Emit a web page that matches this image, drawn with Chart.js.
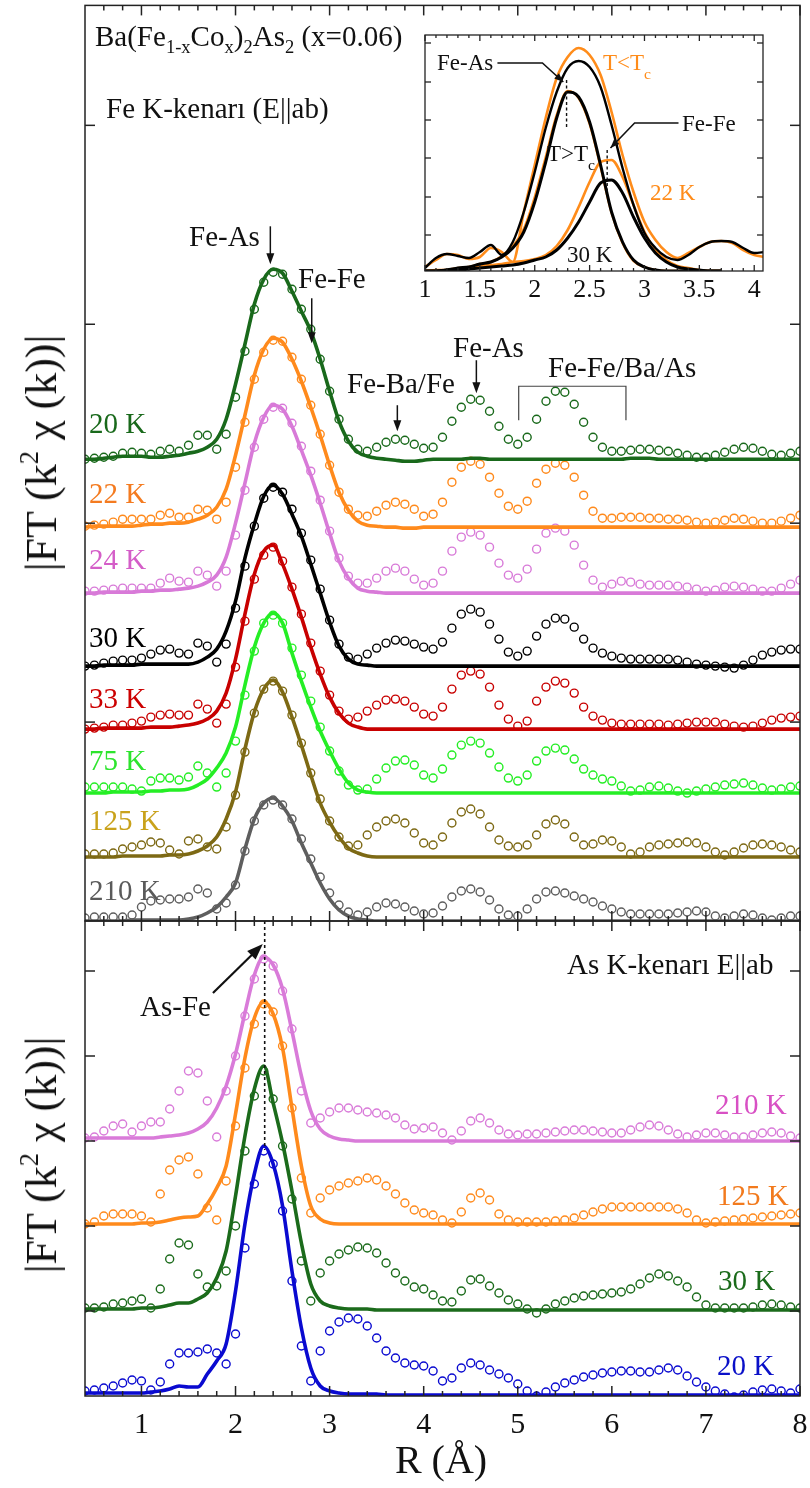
<!DOCTYPE html>
<html lang="tr">
<head>
<meta charset="UTF-8">
<title>Ba(Fe1-xCox)2As2 EXAFS FT</title>
<script src="https://cdn.jsdelivr.net/npm/chart.js"></script>
<style>
  body { margin: 0; background: #fff; }
  #page { position: relative; width: 810px; height: 1488px; background: #fff; overflow: hidden;
          font-family: "Liberation Serif", "DejaVu Serif", serif; color: #111; }
  canvas { position: absolute; }
  .t { position: absolute; white-space: nowrap; font-size: 29px; line-height: 29px; }
  .s { font-size: 23px; line-height: 23px; }
  .t sub { font-size: 0.64em; vertical-align: -0.38em; line-height: 0; }
  .s sub { font-size: 0.68em; vertical-align: -0.55em; line-height: 0; }
  .ytitle { position: absolute; white-space: nowrap; font-size: 44px; line-height: 44px;
            transform: translate(-50%, -50%) rotate(-90deg); }
  .ytitle sup { font-size: 0.6em; vertical-align: 0.7em; line-height: 0; }
</style>
</head>
<body>
<div id="page">
  <canvas id="feChart" width="810" height="930" style="left:0px;top:0px"></canvas>
  <canvas id="asChart" width="810" height="573" style="left:0px;top:915px"></canvas>
  <canvas id="insetChart" width="430" height="300" style="left:380px;top:20px"></canvas>

  <div class="t" style="left:95px;top:22px">Ba(Fe<sub>1-x</sub>Co<sub>x</sub>)<sub>2</sub>As<sub>2</sub> (x=0.06)</div>
  <div class="t" style="left:106px;top:94px">Fe K-kenarı (E||ab)</div>
  <div class="t" style="left:189px;top:222px">Fe-As</div>
  <div class="t" style="left:298px;top:264px">Fe-Fe</div>
  <div class="t" style="left:347px;top:369px">Fe-Ba/Fe</div>
  <div class="t" style="left:453px;top:333px">Fe-As</div>
  <div class="t" style="left:548px;top:353px">Fe-Fe/Ba/As</div>

  <div class="t" style="left:89px;top:409px;color:#19691b">20 K</div>
  <div class="t" style="left:89px;top:479px;color:#f47b20">22 K</div>
  <div class="t" style="left:89px;top:545px;color:#d45ec8">24 K</div>
  <div class="t" style="left:89px;top:623px;color:#000">30 K</div>
  <div class="t" style="left:89px;top:684px;color:#cc0000">33 K</div>
  <div class="t" style="left:89px;top:746px;color:#2de42d">75 K</div>
  <div class="t" style="left:89px;top:806px;color:#c9a21b">125 K</div>
  <div class="t" style="left:89px;top:876px;color:#5a5a5a">210 K</div>

  <div class="t s" style="left:437px;top:51px">Fe-As</div>
  <div class="t s" style="left:603px;top:51px;color:#ff8c1a">T&lt;T<sub>c</sub></div>
  <div class="t s" style="left:682px;top:112px">Fe-Fe</div>
  <div class="t s" style="left:547px;top:142px">T&gt;T<sub>c</sub></div>
  <div class="t s" style="left:650px;top:181px;color:#ff8c1a">22 K</div>
  <div class="t s" style="left:567px;top:243px">30 K</div>

  <div class="t" style="left:140px;top:992px">As-Fe</div>
  <div class="t" style="left:567px;top:950px">As K-kenarı E||ab</div>
  <div class="t" style="left:715px;top:1090px;color:#d850c4">210 K</div>
  <div class="t" style="left:717px;top:1181px;color:#f27a1d">125 K</div>
  <div class="t" style="left:718px;top:1266px;color:#1b6b1b">30 K</div>
  <div class="t" style="left:717px;top:1351px;color:#0a10c8">20 K</div>

  <div class="ytitle" style="left:42px;top:453px">|FT (k<sup>2</sup> χ (k))|</div>
  <div class="ytitle" style="left:42px;top:1155px">|FT (k<sup>2</sup> χ (k))|</div>
  <div class="t" style="left:441px;top:1460px;font-size:40px;line-height:40px;transform:translate(-50%,-50%)">R (Å)</div>
</div>

<script>
// radial grid, Å
const R = [0.4,0.5,0.6,0.7,0.8,0.9,1.0,1.1,1.2,1.3,
           1.4,1.5,1.6,1.7,1.8,1.9,2.0,2.1,2.2,2.3,
           2.4,2.5,2.6,2.7,2.8,2.9,3.0,3.1,3.2,3.3,
           3.4,3.5,3.6,3.7,3.8,3.9,4.0,4.1,4.2,4.3,
           4.4,4.5,4.6,4.7,4.8,4.9,5.0,5.1,5.2,5.3,
           5.4,5.5,5.6,5.7,5.8,5.9,6.0,6.1,6.2,6.3,
           6.4,6.5,6.6,6.7,6.8,6.9,7.0,7.1,7.2,7.3,
           7.4,7.5,7.6,7.7,7.8,7.9,8.0];

// ---- Fe K-edge: |FT| (a.u.), data (circles) and fit (line) ----
const FE_TEMPS = ['20 K','22 K','24 K','30 K','33 K','75 K','125 K','210 K'];
const FE_OFFSETS = [462, 394, 328, 255, 192, 128, 64, 0];

const fe20Data = [0,1,2,3,6,7,6,5,8,10, 8,14,24,24,10,25,62,108,150,177, 187,185,170,150,130,100,68,40,20,10,
  8,12,17,20,19,15,11,12,22,38, 52,60,59,48,33,20,15,22,40,58, 68,67,55,37,22,12,8,8,9,10, 10,9,8,6,4,2,2,4,7,10, 12,11,8,5,4,6,8];
const fe20Fit = [0,0,1,2,3,3,3,2,2,3, 4,6,8,12,20,40,75,115,155,180, 190,186,168,148,128,100,68,38,18,7,
  3,1,0,-1,-2,-2,-1,0,0,0, 0,1,1,0,0,0,0,0,0,0, 0,0,0,0,0,0,0,0,1,1, 1,0,0,0,0,0,0,0,0,0, 0,0,0,0,0,0,0];

const fe22Data = [1,2,3,5,8,8,8,8,12,14, 10,10,18,17,8,25,60,105,148,175, 187,186,170,148,122,93,62,35,18,12,
  11,16,22,25,23,18,11,13,25,45, 60,66,63,50,34,21,18,26,44,58, 64,62,50,32,16,9,9,10,10,10, 9,9,8,8,7,5,4,5,7,9, 8,6,4,4,6,9,12];
const fe22Fit = [0,1,1,1,1,1,2,3,3,4, 4,5,8,12,20,38,72,112,152,178, 189,185,168,146,120,92,62,35,17,6,
  2,1,0,0,-1,-1,0,0,0,0, 0,0,0,0,0,0,0,0,0,0, 0,0,0,0,0,0,0,0,0,0, 0,0,0,0,0,0,0,0,0,0, 0,0,0,0,0,0,0];

const fe24Data = [2,2,3,4,5,5,5,5,10,15, 12,11,22,18,7,22,58,103,146,174, 186,185,170,147,122,93,62,35,17,10,
  10,15,22,25,22,14,8,10,22,42, 56,61,58,46,30,18,15,24,44,60, 65,62,48,28,13,6,9,12,11,9, 8,8,8,7,6,4,2,3,6,7, 6,4,2,2,5,9,13];
const fe24Fit = [0,0,1,1,1,1,2,2,3,3, 4,5,7,11,18,36,70,110,150,176, 188,184,167,143,118,90,60,32,15,5,
  2,1,0,0,0,0,0,0,0,0, 0,0,0,0,0,0,0,0,0,0, 0,0,0,0,0,0,0,0,0,0, 0,0,0,0,0,0,0,0,0,0, 0,0,0,0,0,0,0];

const fe30Data = [0,1,3,5,6,6,8,12,16,17, 13,12,23,20,4,22,58,100,140,168, 179,174,157,133,106,77,46,22,9,7,
  12,18,23,26,25,22,19,17,24,38, 52,57,54,42,27,14,10,15,30,42, 48,47,39,27,18,13,10,8,7,7, 7,7,7,6,4,2,1,0,-1,-2, 1,6,11,14,16,17,17];
const fe30Fit = [0,0,1,1,1,1,2,2,2,2, 2,2,4,9,17,35,65,108,142,170, 181,172,152,130,102,73,44,20,7,2,
  1,0,0,0,0,0,0,0,0,0, 0,0,0,0,0,0,0,0,0,0, 0,0,0,0,0,0,0,0,0,0, 0,0,0,0,0,0,0,0,0,0, 0,0,0,0,0,0,0];

const fe33Data = [0,1,2,4,4,6,8,12,14,15, 14,14,25,20,6,25,62,108,150,174, 182,168,142,115,86,58,34,18,10,12,
  18,24,29,30,28,22,15,13,22,40, 54,58,55,42,24,10,3,8,28,42, 48,46,36,22,13,9,6,5,5,5, 5,5,4,5,6,7,7,7,5,3, 2,3,6,9,11,12,13];
const fe33Fit = [0,0,1,1,1,1,1,2,2,2, 3,4,6,10,18,36,70,115,155,178, 184,165,140,112,82,55,32,16,6,2,
  0,0,0,0,0,0,0,0,0,0, 0,0,0,0,0,0,0,0,0,0, 0,0,0,0,0,0,0,0,0,0, 0,0,0,0,0,0,0,0,0,0, 0,0,0,0,0,0,0];

const fe75Data = [6,6,6,6,6,4,2,12,15,15, 13,16,27,20,6,20,52,98,142,170, 178,170,145,118,92,66,42,22,8,3,
  4,14,25,32,33,28,18,15,24,38, 48,52,50,40,26,15,12,18,32,42, 45,43,34,24,18,14,12,7,2,3, 6,7,5,2,0,2,4,6,8,9, 10,8,5,3,4,6,7];
const fe75Fit = [0,0,0,1,1,1,1,2,2,3, 3,4,8,14,25,40,66,108,146,170, 180,170,140,112,86,62,42,24,10,3,
  1,0,0,0,0,0,0,0,0,0, 0,0,0,0,0,0,0,0,0,0, 0,0,0,0,0,0,0,0,0,0, 0,0,0,0,0,0,0,0,0,0, 0,0,0,0,0,0,0];

const fe125Data = [3,3,3,4,8,10,12,15,14,7, 3,16,18,10,8,30,62,105,144,168, 176,166,142,114,84,58,36,20,11,12,
  22,30,36,38,34,24,14,12,20,34, 45,48,43,30,17,11,10,12,22,33, 37,33,20,12,13,17,16,10,3,5, 10,12,13,14,15,14,10,5,2,5, 9,12,13,12,10,7,5];
const fe125Fit = [0,0,0,0,1,1,1,1,1,2, 2,3,6,11,20,38,65,108,145,168, 177,165,140,112,82,54,35,20,9,4,
  1,0,0,0,0,0,0,0,0,0, 0,0,0,0,0,0,0,0,0,0, 0,0,0,0,0,0,0,0,0,0, 0,0,0,0,0,0,0,0,0,0, 0,0,0,0,0,0,0];

const fe210Data = [3,4,4,4,4,6,14,20,21,22, 22,24,32,28,12,18,36,70,100,116, 121,116,102,82,62,44,28,16,9,6,
  9,14,18,17,14,10,7,8,15,24, 30,32,29,21,12,6,5,12,22,29, 30,28,25,22,19,15,12,9,7,7, 7,7,7,8,9,10,9,5,3,5, 7,6,3,1,3,5,5];
const fe210Fit = [0,0,0,0,0,1,1,1,1,1, 1,2,4,8,14,24,38,72,102,118, 123,115,100,78,58,38,22,11,5,2,
  1,0,0,0,0,0,0,0,0,0, 0,0,0,0,0,0,0,0,0,0, 0,0,0,0,0,0,0,0,0,0, 0,0,0,0,0,0,0,0,0,0, 0,0,0,0,0,0,0];

// ---- As K-edge ----
const AS_TEMPS = ['20 K','30 K','125 K','210 K'];
const AS_OFFSETS = [0, 85, 170, 255];

const as20Data = [5,6,8,10,13,16,15,6,14,32, 43,43,44,47,43,32,62,148,212,245, 232,185,115,50,15,45,65,74,78,77,
  70,58,45,38,33,31,30,25,15,18, 28,33,31,26,22,18,12,5,0,4, 9,13,16,19,21,23,24,25,25,24, 24,26,28,26,20,14,9,5,2,-1, 1,4,6,7,5,3,7];
const as20Fit = [3,3,3,3,3,3,3,4,5,7, 10,9,9,22,35,52,105,172,222,250, 232,190,125,68,28,10,5,3,2,2,
  2,2,1,1,1,1,1,1,1,1, 1,1,1,1,1,1,1,1,1,1, 1,1,1,1,1,1,1,1,1,1, 1,1,1,1,1,1,1,1,1,1, 1,1,1,1,1,1,1];

const as30Data = [3,3,4,7,8,10,12,3,22,52, 68,66,37,24,25,40,85,160,215,240, 212,165,112,50,10,38,50,57,61,64,
  63,58,48,38,30,24,22,16,10,9, 20,31,32,25,18,11,7,2,-2,2, 7,10,13,15,16,17,18,19,22,27, 33,37,35,30,24,14,6,3,3,3, 3,4,6,7,6,4,3];
const as30Fit = [2,2,2,2,2,2,3,3,4,6, 8,8,12,18,33,60,115,175,222,245, 208,168,120,68,27,10,5,3,2,2,
  2,1,1,1,1,1,1,1,1,1, 1,1,1,1,1,1,1,1,1,1, 1,1,1,1,1,1,1,1,1,1, 1,1,1,1,1,1,1,1,1,1, 1,1,1,1,1,1,1];

const as125Data = [2,4,10,12,12,12,10,4,32,56, 66,69,52,18,6,45,100,158,202,222, 214,180,118,48,13,28,36,40,43,45,
  48,46,40,32,23,16,13,11,6,3, 14,28,33,26,12,6,4,4,4,4, 5,6,8,11,14,17,19,19,19,19, 19,19,19,17,13,6,3,4,5,6, 7,8,9,10,11,12,13];
const as125Fit = [2,2,2,2,2,2,3,3,4,6, 8,9,10,22,38,60,112,168,208,224, 212,178,118,60,20,7,3,2,2,2,
  2,2,2,2,2,2,2,2,2,2, 2,2,2,2,2,2,2,2,2,2, 2,2,2,2,2,2,2,2,2,2, 2,2,2,2,2,2,2,2,2,2, 2,2,2,2,2,2,2];

const as210Data = [3,4,10,15,17,9,15,19,19,32, 50,70,68,40,4,50,85,125,162,182, 175,150,112,50,18,23,29,33,33,31,
  29,28,26,23,16,12,13,14,8,1, 10,20,23,18,11,7,6,7,7,8, 9,10,11,11,10,9,8,8,11,14, 16,15,11,7,4,6,8,8,6,4, 4,6,8,9,8,5,3];
const as210Fit = [3,3,3,3,3,3,3,3,4,5, 6,8,12,19,33,55,87,128,166,184, 176,152,110,65,30,12,5,2,1,0,
  0,0,0,0,0,0,0,0,0,0, 0,0,0,0,0,0,0,0,0,0, 0,0,0,0,0,0,0,0,0,0, 0,0,0,0,0,0,0,0,0,0, 0,0,0,0,0,0,0];

// ---- inset: 22 K vs 30 K, full FT and Fe-As / Fe-Fe shells ----
const IN_R = [1.0,1.1,1.2,1.3,1.4,1.5,1.6,1.7,1.8,1.9,2.0,2.1,2.2,2.3,2.4,2.5,
              2.6,2.7,2.8,2.9,3.0,3.1,3.2,3.3,3.4,3.5,3.6,3.7,3.8,3.9,4.0,4.1];
const in22Full = [4,11,17,16,12,14,23,19,9,59, 106,153,193,214,223,216,196,159,116,79, 49,31,19,13,18,24,29,30,28,21, 16,14];
const in30Full = [3,13,17,15,13,19,26,16,29,59, 99,143,179,203,210,204,184,146,103,66, 38,23,14,11,16,24,29,30,29,23, 18,19];
const in22FeAs = [0,0,1,3,4,7,9,15,25,42, 74,114,156,180,173,147,104,58,28,10, 4,1,0,0,0,0,0,0];
const in30FeAs = [0,0,1,3,4,7,9,14,23,39, 69,109,153,179,174,149,106,59,29,11, 4,1,0,0,0,0,0,0];
const in22FeFe = [0,1,1,2,3,5,6,7,9,10, 12,16,25,41,64,89,109,111,94,66, 39,21,11,5,3,1,0,0];
const in30FeFe = [0,0,1,1,2,3,4,5,6,8, 11,14,21,33,49,69,88,91,78,54, 33,18,9,4,2,1,0,0];

// axis ticks
const X_MAJOR = [1,2,3,4,5,6,7,8];
const FE_YTICKS = [199, 398, 597, 796];
const AS_YTICKS = [85, 170, 255, 340, 425];
const IN_XMAJOR = [1,1.5,2,2.5,3,3.5,4];
const IN_YTICKS = [36, 74, 113, 151, 189, 228];

// annotation marks (data coordinates)
const FE_ARROWS = [{r:2.37, from:695, to:657}, {r:2.81, from:623, to:578}, {r:3.72, from:516, to:490}, {r:4.56, from:561, to:528}];
const FE_BRACKET = {from:5.01, to:6.15, top:535, leg:501};
const IN_POINTERS = [[[1.66,208],[2.07,208],[2.26,189]], [[3.31,148],[2.91,148],[2.69,123]]];
const IN_DASHES = [{r:2.29, from:191, to:144}, {r:2.66, from:121, to:79}];
const AS_DASH = {r:2.31, from:475, to:246};
const AS_ARROW = {from:[1.76,403], to:[2.29,452]};

const FE_COLORS = ['#19691b','#ff8a1c','#d87ad8','#000000','#c80000','#25ee25','#7d6914','#5e5e5e'];
const AS_COLORS = ['#0a0ad0','#1b6b1b','#ff8a1c','#d97bd9'];
const SERIF = '"Liberation Serif", "Times New Roman", serif';

function minors(lo, hi, step, skip) {
  const out = [];
  for (let v = lo; v <= hi + 1e-9; v += step) {
    const r = Math.round(v * 100) / 100;
    if (!skip.some(s => Math.abs(s - r) < 1e-6)) out.push(r);
  }
  return out;
}
const X_MINOR = minors(0.6, 7.8, 0.2, X_MAJOR);
const IN_XMINOR = minors(1.1, 4.0, 0.1, IN_XMAJOR);

const pts = (xs, ys, off) => ys.map((v, i) => ({x: xs[i], y: v + off}));

function circleSet(xs, ys, off, color) {
  return { data: pts(xs, ys, off), showLine: false, pointRadius: 4, pointHoverRadius: 0,
           pointBorderWidth: 1.4, pointBorderColor: color, pointBackgroundColor: 'rgba(0,0,0,0)', order: 2 };
}
function lineSet(xs, ys, off, color, width) {
  return { data: pts(xs, ys, off), showLine: true, pointRadius: 0, borderColor: color,
           borderWidth: width || 3.6, cubicInterpolationMode: 'monotone', order: 1 };
}

function arrowHead(ctx, x1, y1, x2, y2, len, half) {
  const a = Math.atan2(y2 - y1, x2 - x1);
  ctx.beginPath();
  ctx.moveTo(x2, y2);
  ctx.lineTo(x2 - len * Math.cos(a) + half * Math.sin(a), y2 - len * Math.sin(a) - half * Math.cos(a));
  ctx.lineTo(x2 - len * Math.cos(a) - half * Math.sin(a), y2 - len * Math.sin(a) + half * Math.cos(a));
  ctx.closePath();
  ctx.fill();
}
function line(ctx, x1, y1, x2, y2) { ctx.beginPath(); ctx.moveTo(x1, y1); ctx.lineTo(x2, y2); ctx.stroke(); }

// frame, inward ticks and tick labels
const frame = {
  id: 'frame',
  afterDraw(chart, args, o) {
    const {ctx, chartArea: a, scales: {x, y}} = chart;
    ctx.save();
    ctx.strokeStyle = '#222';
    ctx.lineWidth = o.lw;
    ctx.strokeRect(a.left, a.top, a.right - a.left, a.bottom - a.top);
    const xt = (vals, len) => vals.forEach(v => {
      const p = x.getPixelForValue(v);
      line(ctx, p, a.top, p, a.top + len);
      line(ctx, p, a.bottom, p, a.bottom - len);
    });
    xt(o.xMajor, o.major); xt(o.xMinor, o.minor);
    o.yTicks.forEach(v => {
      const p = y.getPixelForValue(v);
      line(ctx, a.left, p, a.left + o.major, p);
      line(ctx, a.right, p, a.right - o.major, p);
    });
    if (o.labels) {
      ctx.fillStyle = '#111';
      ctx.font = o.font;
      ctx.textAlign = 'center';
      ctx.textBaseline = 'middle';
      o.xMajor.forEach(v => ctx.fillText(String(v), x.getPixelForValue(v), a.bottom + o.labelGap));
    }
    ctx.restore();
  }
};

function baseOptions(xmin, xmax, ymin, ymax, pad, frameOpts) {
  return {
    responsive: false, animation: false, devicePixelRatio: 1,
    layout: { padding: pad },
    scales: {
      x: { type: 'linear', min: xmin, max: xmax, display: false },
      y: { type: 'linear', min: ymin, max: ymax, display: false }
    },
    plugins: { legend: { display: false }, tooltip: { enabled: false }, frame: frameOpts },
    events: []
  };
}

// ---- Fe K-edge panel ----
const feDatasets = [];
[[fe20Data, fe20Fit], [fe22Data, fe22Fit], [fe24Data, fe24Fit], [fe30Data, fe30Fit],
 [fe33Data, fe33Fit], [fe75Data, fe75Fit], [fe125Data, fe125Fit], [fe210Data, fe210Fit]]
  .forEach(([d, f], i) => {
    feDatasets.push(lineSet(R, f, FE_OFFSETS[i], FE_COLORS[i]));
    feDatasets.push(circleSet(R, d, FE_OFFSETS[i], FE_COLORS[i]));
  });

const feMarks = {
  id: 'feMarks',
  afterDatasetsDraw(chart) {
    const {ctx, scales: {x, y}} = chart;
    ctx.save();
    ctx.strokeStyle = ctx.fillStyle = '#111';
    ctx.lineWidth = 1.5;
    FE_ARROWS.forEach(m => {
      const px = x.getPixelForValue(m.r), y1 = y.getPixelForValue(m.from), y2 = y.getPixelForValue(m.to);
      line(ctx, px, y1, px, y2 - 6);
      arrowHead(ctx, px, y1, px, y2, 11, 4);
    });
    const b1 = x.getPixelForValue(FE_BRACKET.from), b2 = x.getPixelForValue(FE_BRACKET.to);
    const bt = y.getPixelForValue(FE_BRACKET.top), bl = y.getPixelForValue(FE_BRACKET.leg);
    ctx.strokeStyle = '#444';
    ctx.lineWidth = 1.2;
    ctx.beginPath();
    ctx.moveTo(b1, bl); ctx.lineTo(b1, bt); ctx.lineTo(b2, bt); ctx.lineTo(b2, bl);
    ctx.stroke();
    ctx.restore();
  }
};

new Chart(document.getElementById('feChart'), {
  type: 'scatter',
  data: { datasets: feDatasets },
  options: baseOptions(0.4, 8, 0, 916, {left: 85, right: 10, top: 5, bottom: 9},
    {lw: 1.5, major: 10, minor: 5, xMajor: X_MAJOR, xMinor: X_MINOR, yTicks: FE_YTICKS}),
  plugins: [frame, feMarks]
});

// ---- As K-edge panel ----
const asDatasets = [];
[[as20Data, as20Fit], [as30Data, as30Fit], [as125Data, as125Fit], [as210Data, as210Fit]]
  .forEach(([d, f], i) => {
    asDatasets.push(lineSet(R, f, AS_OFFSETS[i], AS_COLORS[i]));
    asDatasets.push(circleSet(R, d, AS_OFFSETS[i], AS_COLORS[i]));
  });

const asMarks = {
  id: 'asMarks',
  afterDatasetsDraw(chart) {
    const {ctx, scales: {x, y}} = chart;
    ctx.save();
    ctx.strokeStyle = ctx.fillStyle = '#111';
    ctx.lineWidth = 1.6;
    ctx.setLineDash([3, 3]);
    const dx = x.getPixelForValue(AS_DASH.r);
    line(ctx, dx, y.getPixelForValue(AS_DASH.from), dx, y.getPixelForValue(AS_DASH.to));
    ctx.setLineDash([]);
    ctx.lineWidth = 2.2;
    const x1 = x.getPixelForValue(AS_ARROW.from[0]), y1 = y.getPixelForValue(AS_ARROW.from[1]);
    const x2 = x.getPixelForValue(AS_ARROW.to[0]), y2 = y.getPixelForValue(AS_ARROW.to[1]);
    line(ctx, x1, y1, x2 - 8, y2 + 8);
    arrowHead(ctx, x1, y1, x2, y2, 16, 6);
    ctx.restore();
  }
};

new Chart(document.getElementById('asChart'), {
  type: 'scatter',
  data: { datasets: asDatasets },
  options: baseOptions(0.4, 8, 0, 475, {left: 85, right: 10, top: 6, bottom: 92},
    {lw: 1.5, major: 10, minor: 5, xMajor: X_MAJOR, xMinor: X_MINOR, yTicks: AS_YTICKS,
     labels: true, font: '30px ' + SERIF, labelGap: 29}),
  plugins: [frame, asMarks]
});

// ---- inset ----
const inMarks = {
  id: 'inMarks',
  afterDatasetsDraw(chart) {
    const {ctx, scales: {x, y}} = chart;
    ctx.save();
    ctx.strokeStyle = ctx.fillStyle = '#111';
    ctx.lineWidth = 1.6;
    IN_POINTERS.forEach(p => {
      const q = p.map(([r, v]) => [x.getPixelForValue(r), y.getPixelForValue(v)]);
      ctx.beginPath();
      ctx.moveTo(q[0][0], q[0][1]);
      ctx.lineTo(q[1][0], q[1][1]);
      ctx.lineTo(q[2][0], q[2][1]);
      ctx.stroke();
      arrowHead(ctx, q[1][0], q[1][1], q[2][0], q[2][1], 9, 3.5);
    });
    ctx.lineWidth = 1.4;
    ctx.setLineDash([3, 2.5]);
    IN_DASHES.forEach(d => {
      const px = x.getPixelForValue(d.r);
      line(ctx, px, y.getPixelForValue(d.from), px, y.getPixelForValue(d.to));
    });
    ctx.restore();
  }
};

const IN_ORANGE = '#ff8c1a';
new Chart(document.getElementById('insetChart'), {
  type: 'scatter',
  data: { datasets: [
    lineSet(IN_R, in30FeAs, 0, '#000', 3),
    lineSet(IN_R, in30FeFe, 0, '#000', 3),
    lineSet(IN_R, in30Full, 0, '#000', 2.4),
    lineSet(IN_R, in22FeAs, 0, IN_ORANGE, 2.4),
    lineSet(IN_R, in22FeFe, 0, IN_ORANGE, 2.6),
    lineSet(IN_R, in22Full, 0, IN_ORANGE, 2.6)
  ].map((d, i) => Object.assign(d, {order: i})) },
  options: baseOptions(1, 4.08, 0, 236, {left: 45, right: 47, top: 15, bottom: 49},
    {lw: 1.3, major: 6, minor: 3, xMajor: IN_XMAJOR, xMinor: IN_XMINOR, yTicks: IN_YTICKS,
     labels: true, font: '26px ' + SERIF, labelGap: 19}),
  plugins: [frame, inMarks]
});
</script>
</body>
</html>
